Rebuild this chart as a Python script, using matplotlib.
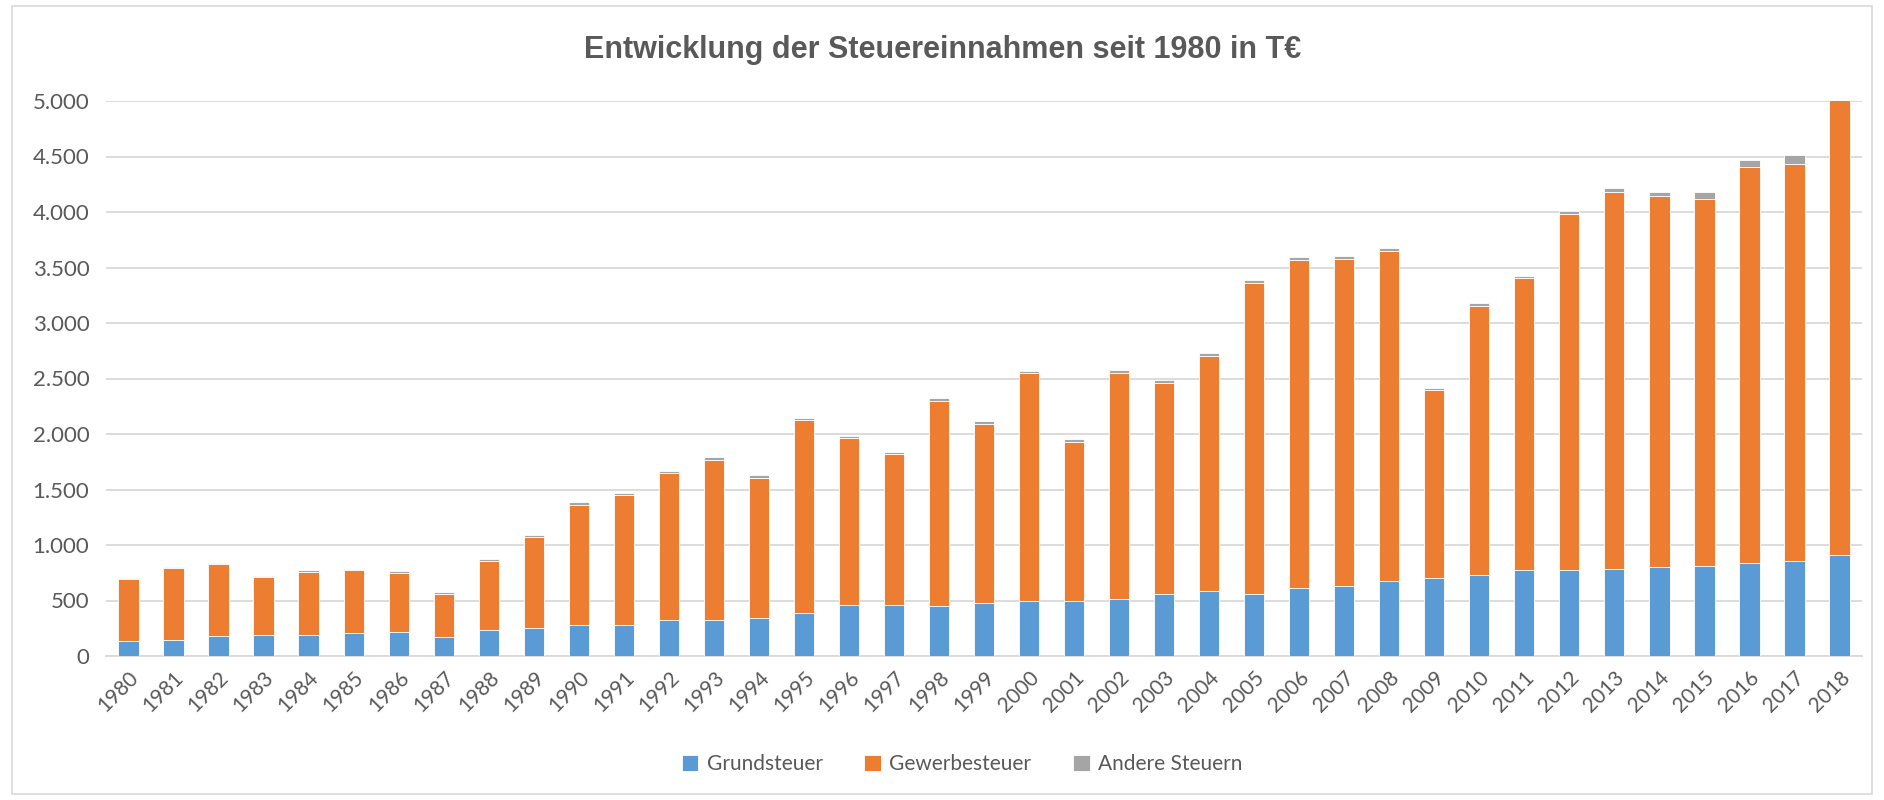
import matplotlib
matplotlib.use("Agg")
import matplotlib.pyplot as plt
from matplotlib.patches import Rectangle
from matplotlib.ticker import FuncFormatter, MultipleLocator
import numpy as np

years = [str(y) for y in range(1980, 2019)]
grundsteuer = [138, 148, 183, 193, 193, 204, 217, 169, 235, 248, 279, 278, 321, 321, 342,
               383, 462, 455, 452, 480, 500, 497, 518, 555, 590, 562, 611, 628, 680, 700,
               728, 776, 776, 787, 800, 807, 842, 856, 914]
gewerbesteuer = [559, 645, 648, 518, 566, 569, 535, 393, 624, 822, 1084, 1172, 1325, 1449, 1266,
                 1742, 1501, 1367, 1849, 1611, 2046, 1435, 2035, 1908, 2115, 2798, 2960, 2953, 2970, 1698,
                 2425, 2626, 3209, 3394, 3340, 3309, 3567, 3574, 4100]
andere = [7, 7, 11, 10, 14, 14, 14, 14, 17, 20, 20, 21, 17, 21, 24,
          17, 21, 20, 21, 24, 21, 21, 21, 21, 24, 28, 20, 21, 28, 20,
          24, 24, 27, 35, 41, 62, 62, 83, 90]
series_names = ["Grundsteuer", "Gewerbesteuer", "Andere Steuern"]
colors = ["#5B9BD5", "#ED7D31", "#A5A5A5"]
title = "Entwicklung der Steuereinnahmen seit 1980 in T€"

text_col = "#595959"
tick_font = ["Lato", "DejaVu Sans"]

fig = plt.figure(figsize=(18.84, 8.0), dpi=100)
fig.patch.set_facecolor("white")
# outer chart border
fig.patches.append(Rectangle((12/1884, 6/800), 1860/1884, 788/800, transform=fig.transFigure,
                             fill=False, edgecolor="#D9D9D9", linewidth=1.2))

ax = fig.add_axes([106/1884, 1 - 656/800, (1862-106)/1884, (656-101)/800])
x = np.arange(len(years))
w = 0.45
b1 = np.array(grundsteuer)
b2 = b1 + np.array(gewerbesteuer)
ax.bar(x, grundsteuer, w, color=colors[0], edgecolor="white", linewidth=0.6, label=series_names[0], zorder=3)
ax.bar(x, gewerbesteuer, w, bottom=b1, color=colors[1], edgecolor="white", linewidth=0.6, label=series_names[1], zorder=3)
ax.bar(x, andere, w, bottom=b2, color=colors[2], edgecolor="white", linewidth=0.6, label=series_names[2], zorder=3)

ax.set_xlim(-0.5, len(years) - 0.5)
ax.set_ylim(0, 5000)
ax.yaxis.set_major_locator(MultipleLocator(500))
ax.yaxis.set_major_formatter(FuncFormatter(lambda v, p: f"{int(v):,}".replace(",", ".")))
ax.grid(axis="y", color="#D9D9D9", linewidth=1.3, zorder=0)
for s in ["top", "right", "left"]:
    ax.spines[s].set_visible(False)
ax.spines["bottom"].set_color("#D9D9D9")
ax.spines["bottom"].set_linewidth(1.3)
ax.tick_params(axis="both", length=0, colors=text_col)
ax.tick_params(axis="y", pad=12)
ax.set_xticks(x)
ax.set_xticklabels(years, rotation=45, ha="right", rotation_mode="anchor")
for lab in ax.get_yticklabels():
    lab.set_family(tick_font); lab.set_fontsize(16)
for lab in ax.get_xticklabels():
    lab.set_family(tick_font); lab.set_fontsize(15)
ax.tick_params(axis="x", pad=8)

fig.text(943/1884, 1 - 50/800, title, ha="center", va="center", fontsize=22, fontweight="bold",
         color=text_col, family=["Liberation Sans", "DejaVu Sans"])

leg = fig.legend(loc="center", bbox_to_anchor=(962/1884, 1 - 764/800), ncol=3, frameon=False,
                 prop={"family": tick_font, "size": 15}, handlelength=0.8, handleheight=0.8,
                 columnspacing=2.0, handletextpad=0.4)
for t in leg.get_texts():
    t.set_color(text_col)

fig.savefig("out.png", dpi=100, facecolor="white")
